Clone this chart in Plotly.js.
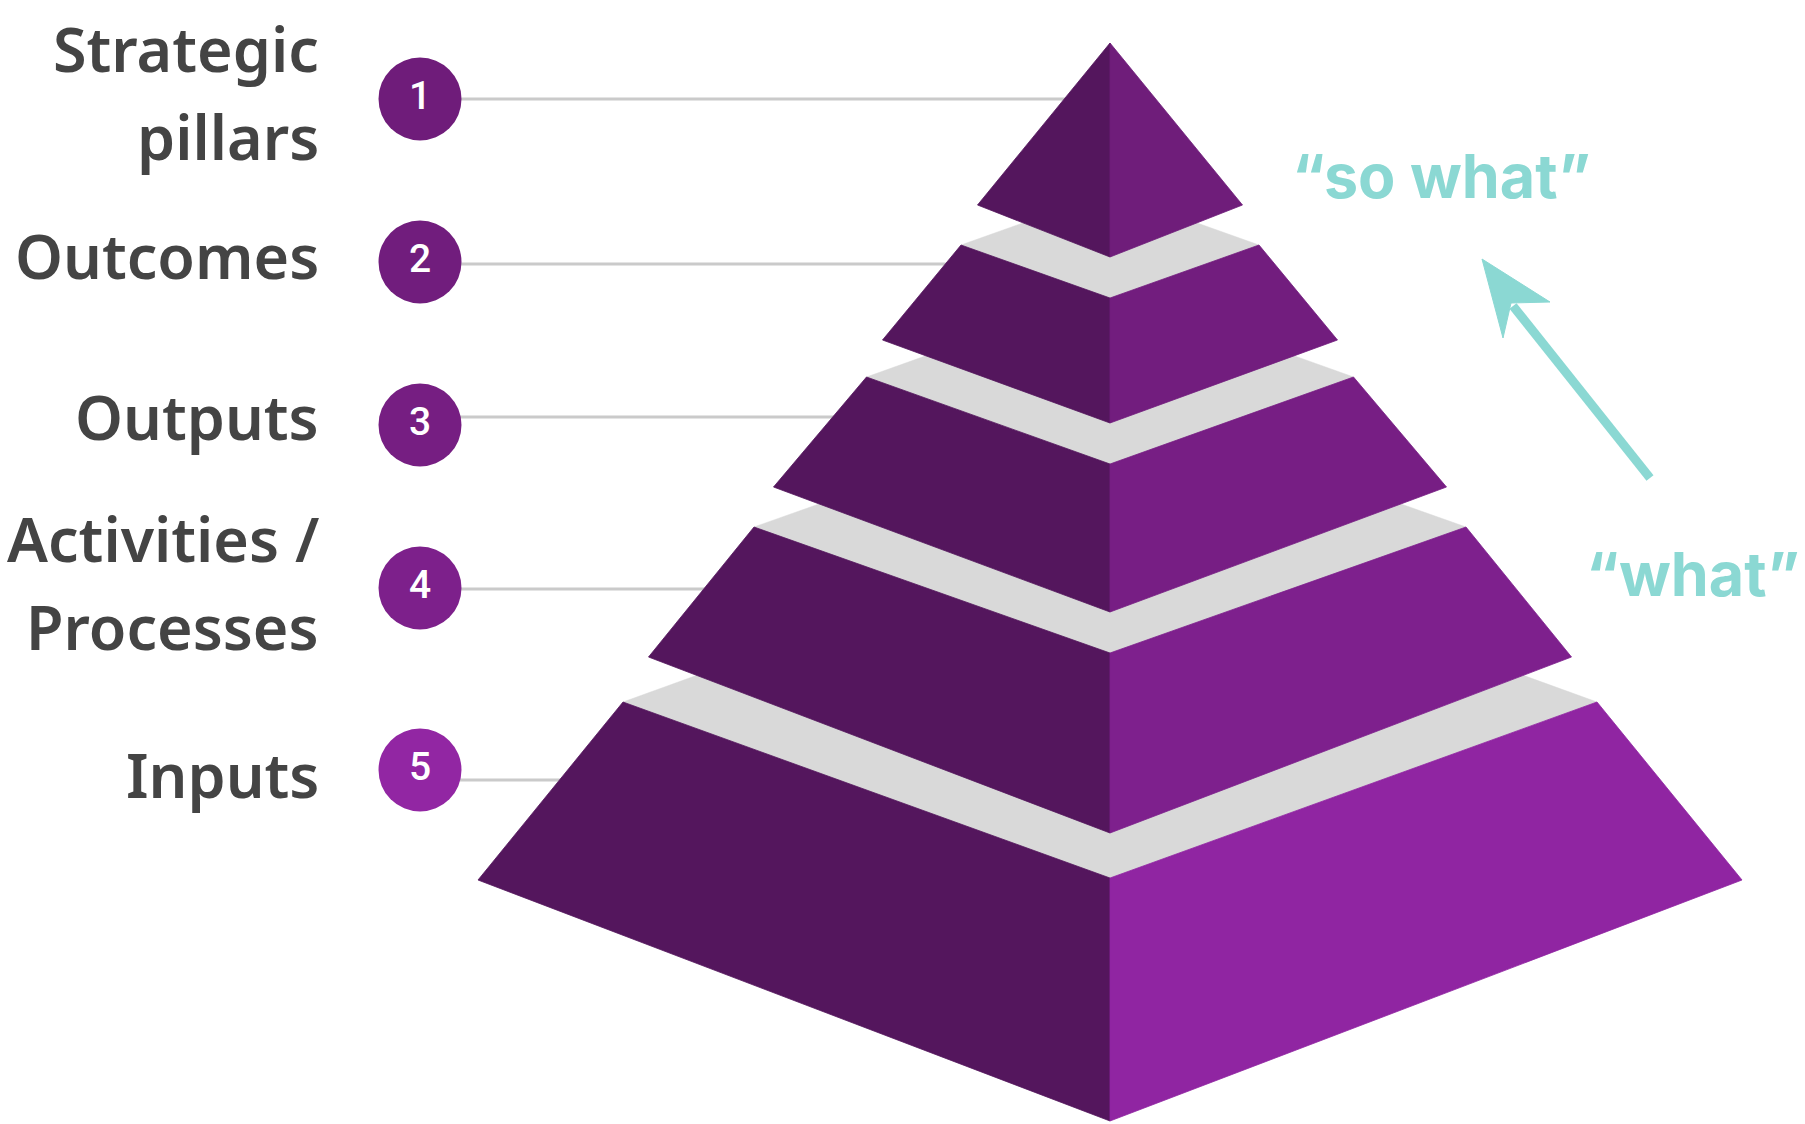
<!DOCTYPE html>
<html>
<head>
<meta charset="utf-8">
<script src="https://cdn.plot.ly/plotly-3.0.1.min.js"></script>
<style>
  html, body { margin: 0; padding: 0; background: #ffffff; }
  #chart { width: 1805px; height: 1124px; }
</style>
</head>
<body>
<div id="chart"></div>
<script>
// ---------- data ----------
const levelNames   = ["Strategic pillars", "Outcomes", "Outputs", "Activities / Processes", "Inputs"];
const levelNumbers = ["1", "2", "3", "4", "5"];
const labelLines   = [["Strategic", "pillars"], ["Outcomes"], ["Outputs"], ["Activities /", "Processes"], ["Inputs"]];
const topNote      = "\u201cso what\u201d";
const bottomNote   = "\u201cwhat\u201d";

// ---------- styles ----------
const leftFaceColor  = "#54165D";
const rightFaceColors = ["#6F1D7A", "#721D7E", "#771E84", "#7E208D", "#9025A2"];
const circleColors    = ["#6F1C7A", "#711D7D", "#761E82", "#7D208B", "#9226A3"];
const topFaceColor = "#D9D9D9";
const leaderColor  = "#CACACA";
const teal = "#8BD8D3";
const labelColor = "#444444";

// ---------- geometry (pixel space of the page) ----------
const W = 1805, H = 1124;
const cx = 1110;
const tierTopY      = [43, 245, 377, 527, 702];
const tierTopHalf   = [0, 149, 243.5, 356, 487];
const tierTopFront  = [43, 298, 464, 653, 878];
const tierBotY      = [205, 340, 487, 657, 880];
const tierBotHalf   = [132.5, 227.5, 336.5, 461.5, 632];
const tierBotFront  = [257, 423, 612, 833, 1121];

const circleX = 420;
const circleY = [99, 262, 425, 588, 770];
const leaderY = [99, 264, 417, 589, 780];
const labelRightX = 321;
const labelBaselines = [[72, 160], [279], [440], [562, 650], [798]];
const labelSize = 61;

const traces = [];

leaderY.forEach(function (y) {
  traces.push({
    type: "scatter", mode: "lines", x: [circleX, cx], y: [y, y],
    line: { color: leaderColor, width: 3 }, hoverinfo: "skip", showlegend: false
  });
});

for (let k = levelNames.length - 1; k >= 0; k--) {
  const tY = tierTopY[k], tH = tierTopHalf[k], tF = tierTopFront[k];
  const bY = tierBotY[k], bH = tierBotHalf[k], bF = tierBotFront[k];
  if (tH > 0) {
    traces.push({
      type: "scatter", mode: "lines", fill: "toself", fillcolor: topFaceColor,
      x: [cx - tH, cx, cx + tH, cx, cx - tH],
      y: [tY, tF, tY, 2 * tY - tF, tY],
      line: { color: topFaceColor, width: 0.5 }, hoverinfo: "skip", showlegend: false
    });
  }
  traces.push({
    type: "scatter", mode: "lines", fill: "toself", fillcolor: leftFaceColor,
    x: [cx - tH, cx, cx, cx - bH, cx - tH],
    y: [tY, tF, bF, bY, tY],
    line: { color: leftFaceColor, width: 0.8 }, hoverinfo: "skip", showlegend: false
  });
  traces.push({
    type: "scatter", mode: "lines", fill: "toself", fillcolor: rightFaceColors[k],
    x: [cx, cx + tH, cx + bH, cx, cx],
    y: [tF, tY, bY, bF, tF],
    line: { color: rightFaceColors[k], width: 0.8 }, hoverinfo: "skip", showlegend: false
  });
}

traces.push({
  type: "scatter", mode: "markers+text",
  x: levelNumbers.map(function () { return circleX; }), y: circleY,
  text: levelNumbers, textposition: "middle center",
  textfont: { family: "Roboto", size: 39, color: "#ffffff", weight: 500 },
  marker: { size: 83, color: circleColors, line: { width: 0 } },
  hoverinfo: "skip", showlegend: false
});

traces.push({
  type: "scatter", mode: "lines", x: [1650, 1513], y: [478, 306],
  line: { color: teal, width: 9 }, hoverinfo: "skip", showlegend: false
});
traces.push({
  type: "scatter", mode: "lines", fill: "toself", fillcolor: teal,
  x: [1482, 1550, 1511, 1503, 1482], y: [259, 302, 303, 338, 259],
  line: { color: teal, width: 1 }, hoverinfo: "skip", showlegend: false
});

const annotations = [];
labelLines.forEach(function (lines, i) {
  lines.forEach(function (t, j) {
    annotations.push({
      x: labelRightX, y: labelBaselines[i][j] - 0.388 * labelSize,
      xref: "x", yref: "y", xanchor: "right", yanchor: "middle",
      text: t, showarrow: false,
      font: { family: "Noto Sans", size: labelSize, color: labelColor, weight: 600 }
    });
  });
});
annotations.push({
  x: 1441, y: 176, xref: "x", yref: "y", xanchor: "center", yanchor: "middle",
  text: topNote, showarrow: false,
  font: { family: "Inter", size: 61, color: teal, weight: 700 }
});
annotations.push({
  x: 1693, y: 574, xref: "x", yref: "y", xanchor: "center", yanchor: "middle",
  text: bottomNote, showarrow: false,
  font: { family: "Inter", size: 61, color: teal, weight: 700 }
});

const layout = {
  width: W, height: H,
  margin: { l: 0, r: 0, t: 0, b: 0, pad: 0 },
  paper_bgcolor: "#ffffff", plot_bgcolor: "#ffffff",
  xaxis: { range: [0, W], visible: false, fixedrange: true },
  yaxis: { range: [H, 0], visible: false, fixedrange: true },
  annotations: annotations,
  showlegend: false
};

Plotly.newPlot("chart", traces, layout, { displayModeBar: false, staticPlot: true });
</script>
</body>
</html>
